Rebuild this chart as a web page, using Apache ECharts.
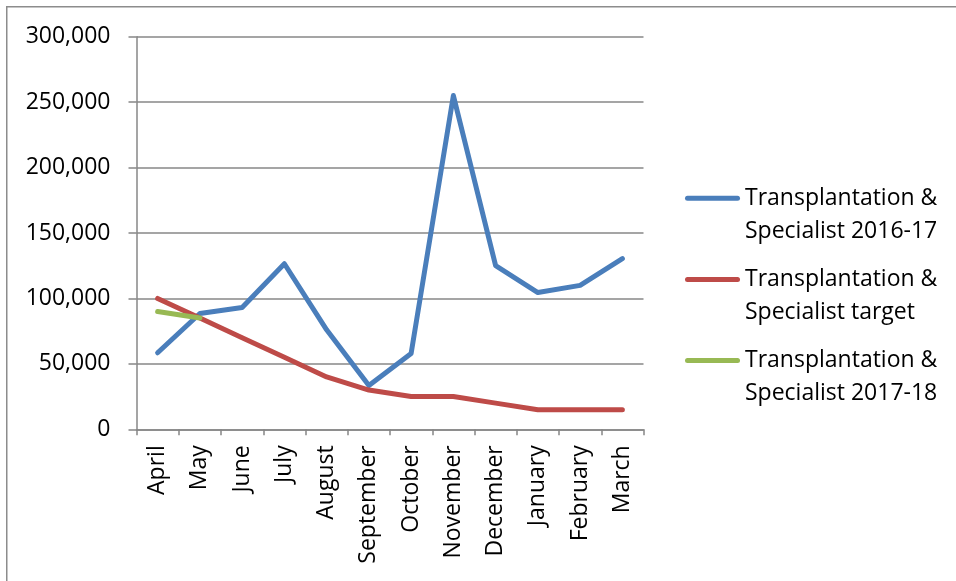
<!DOCTYPE html>
<html>
<head>
<meta charset="utf-8">
<script src="https://cdn.jsdelivr.net/npm/echarts@6/dist/echarts.min.js"></script>
<style>
html,body{margin:0;padding:0;background:#fff;}
#chart{width:956px;height:581px;}
</style>
</head>
<body>
<div id="chart"></div>
<script>
const categories = ['April','May','June','July','August','September','October','November','December','January','February','March'];
const series2016Name = 'Transplantation & Specialist 2016-17';
const targetName = 'Transplantation & Specialist target';
const series2017Name = 'Transplantation & Specialist 2017-18';
const values2016 = [58500, 88500, 93000, 126500, 76000, 33500, 58000, 255000, 125000, 104500, 110000, 130500];
const valuesTarget = [100000, 85000, 70000, 55000, 40000, 30000, 25000, 25000, 20000, 15000, 15000, 15000];
const values2017 = [90000, 85000];
const yTicks = {min: 0, max: 300000, interval: 50000};

const FONT = "'Open Sans', sans-serif";
const GRAY = '#878787';
const colors = ['#4a7ebb', '#be4b48', '#98b954'];
const LW = 5;

function legendFor(name, top) {
  return {
    data: [name],
    left: 685,
    top: top,
    orient: 'vertical',
    icon: 'path://M2.5,0 L52.5,0 A2.5,2.5 0 0 1 52.5,5 L2.5,5 A2.5,2.5 0 0 1 2.5,0 Z',
    itemWidth: 55,
    itemHeight: 5,
    itemGap: 0,
    padding: 0,
    selectedMode: false,
    formatter: function (n) {
      const i = n.indexOf('& ');
      return ' \n' + n.slice(0, i + 1) + '\n' + n.slice(i + 2);
    },
    textStyle: {fontFamily: FONT, fontSize: 23, color: '#000', lineHeight: 33.4}
  };
}

const chart = echarts.init(document.getElementById('chart'), null, {renderer: 'canvas'});
chart.setOption({
  animation: false,
  color: colors,
  graphic: [{
    type: 'rect',
    shape: {x: 6.75, y: 6.75, width: 1200, height: 1200},
    style: {fill: 'none', stroke: '#8c8c8c', lineWidth: 1.5},
    silent: true, z: -10
  }],
  grid: {left: 136.5, right: 312.5, top: 36.7, bottom: 151.7, containLabel: false},
  legend: [
    legendFor(series2016Name, 198.3 - 50.1),
    legendFor(targetName, 279.5 - 50.1),
    legendFor(series2017Name, 360.5 - 50.1)
  ],
  xAxis: {
    type: 'category',
    data: categories,
    boundaryGap: true,
    axisLine: {show: true, lineStyle: {color: GRAY, width: 1.5}},
    axisTick: {show: true, length: 6, interval: 0, lineStyle: {color: GRAY, width: 1.5}},
    axisLabel: {rotate: 90, interval: 0, margin: 16, fontFamily: FONT, fontSize: 23, color: '#000'},
    splitLine: {show: false}
  },
  yAxis: {
    type: 'value',
    min: yTicks.min, max: yTicks.max, interval: yTicks.interval,
    axisLine: {show: true, lineStyle: {color: GRAY, width: 1.5}},
    axisTick: {show: true, length: 8, lineStyle: {color: GRAY, width: 1.5}},
    axisLabel: {
      margin: 26, fontFamily: FONT, fontSize: 23, color: '#000',
      formatter: function (v) { return v.toLocaleString('en-US'); }
    },
    splitLine: {show: true, lineStyle: {color: GRAY, width: 1.5}}
  },
  series: [
    {name: series2016Name, type: 'line', data: values2016, symbol: 'none', lineStyle: {width: LW, cap: 'round', join: 'round'}},
    {name: targetName, type: 'line', data: valuesTarget, symbol: 'none', lineStyle: {width: LW, cap: 'round', join: 'round'}},
    {name: series2017Name, type: 'line', data: values2017, symbol: 'none', lineStyle: {width: LW, cap: 'round', join: 'round'}}
  ]
});
</script>
</body>
</html>
